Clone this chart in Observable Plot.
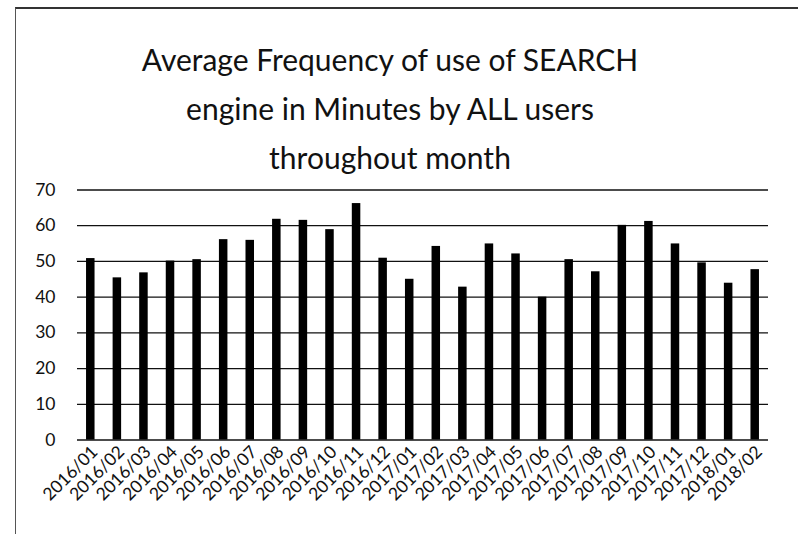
<!DOCTYPE html>
<html>
<head>
<meta charset="utf-8">
<script src="https://cdn.jsdelivr.net/npm/d3@7"></script>
<script src="https://cdn.jsdelivr.net/npm/@observablehq/plot@0.6"></script>
<style>
  html, body { margin: 0; padding: 0; background: #fff; }
  #wrap { position: relative; width: 798px; height: 534px; overflow: hidden; font-family: Lato, "Open Sans", sans-serif; }
  #frame { position: absolute; left: 15px; top: 7px; width: 800px; height: 600px; border-left: 1px solid #555; border-top: 2px solid #333; box-sizing: border-box; }
  #title { position: absolute; left: 0; top: 35px; width: 780px; text-align: center; font-size: 30px; line-height: 49px; color: #111; }
  #chart { position: absolute; left: 0; top: 0; }
</style>
</head>
<body>
<div id="wrap">
  <div id="frame"></div>
  <div id="chart"></div>
  <div id="title">Average Frequency of use of SEARCH<br>engine in Minutes by ALL users<br>throughout month</div>
</div>
<script>
const months = ["2016/01","2016/02","2016/03","2016/04","2016/05","2016/06","2016/07","2016/08","2016/09","2016/10","2016/11","2016/12",
  "2017/01","2017/02","2017/03","2017/04","2017/05","2017/06","2017/07","2017/08","2017/09","2017/10","2017/11","2017/12",
  "2018/01","2018/02"];
const values = [50.8,45.4,46.8,50.1,50.5,56.1,55.9,61.8,61.5,58.9,66.2,50.9,
  45.0,54.2,42.8,54.9,52.1,40.0,50.5,47.1,60.1,61.2,54.9,49.6,
  43.9,47.7];
const yTicks = [0,10,20,30,40,50,60,70];

const data = months.map((m, i) => ({month: m, value: values[i]}));

const chart = Plot.plot({
  width: 798,
  height: 534,
  marginTop: 189.5,
  marginBottom: 94.5,
  marginLeft: 77,
  marginRight: 30,
  style: {fontFamily: "Lato, 'Open Sans', sans-serif", background: "transparent", color: "#111"},
  x: {domain: months, paddingInner: 0.68, paddingOuter: 0.34, round: false, label: null},
  y: {domain: [0, 70], label: null},
  marks: [
    Plot.gridY(yTicks, {stroke: "#111", strokeOpacity: 1, strokeWidth: 1.3}),
    Plot.barY(data, {x: "month", y: "value", fill: "#000"}),
    Plot.axisY(yTicks, {tickSize: 0, tickPadding: 22, fontSize: 17.5, label: null}),
    Plot.axisX({tickSize: 0, tickRotate: -45, tickPadding: 9, fontSize: 17.5, label: null, dx: 4})
  ]
});
document.getElementById("chart").appendChild(chart);
</script>
</body>
</html>
